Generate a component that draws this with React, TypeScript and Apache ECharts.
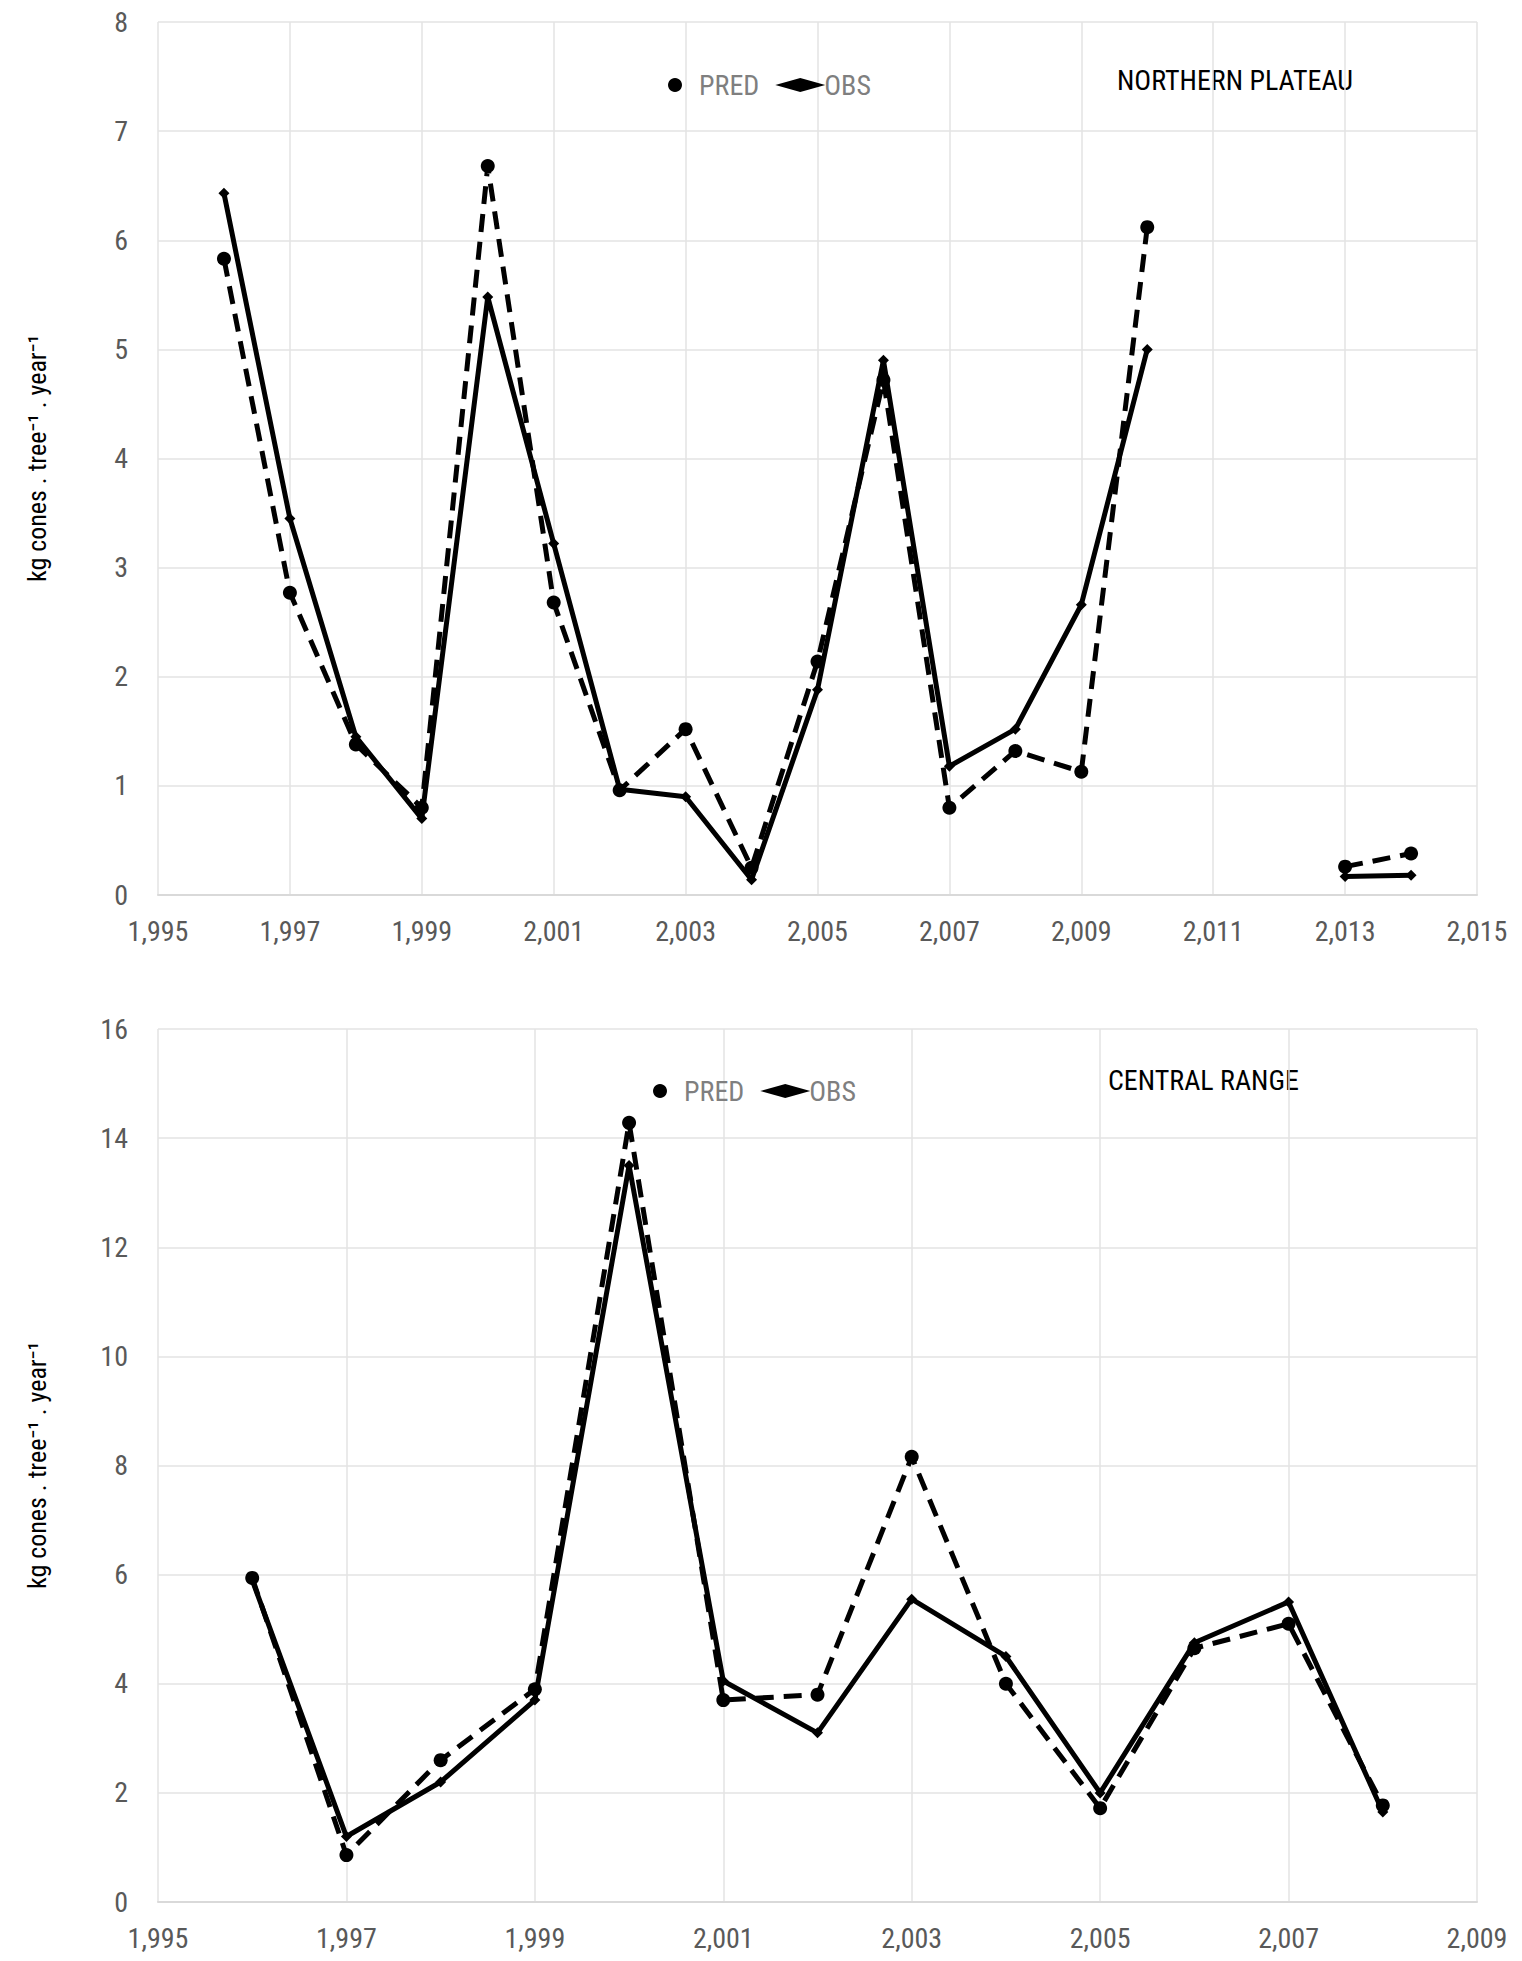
import React, { useEffect, useRef } from 'react';
import * as echarts from 'echarts';

const yearsTop = [1996, 1997, 1998, 1999, 2000, 2001, 2002, 2003, 2004, 2005, 2006, 2007, 2008, 2009, 2010, 2011, 2012, 2013, 2014];
const predTop = [5.83, 2.77, 1.38, 0.8, 6.68, 2.68, 0.96, 1.52, 0.25, 2.14, 4.72, 0.8, 1.32, 1.13, 6.12, null, null, 0.26, 0.38];
const obsTop = [6.43, 3.45, 1.45, 0.7, 5.48, 3.22, 0.97, 0.9, 0.14, 1.88, 4.9, 1.18, 1.52, 2.66, 5.0, null, null, 0.17, 0.18];

const yearsBottom = [1996, 1997, 1998, 1999, 2000, 2001, 2002, 2003, 2004, 2005, 2006, 2007, 2008];
const predBottom = [5.94, 0.86, 2.6, 3.9, 14.28, 3.7, 3.8, 8.16, 4.0, 1.72, 4.65, 5.1, 1.77];
const obsBottom = [5.9, 1.2, 2.2, 3.7, 13.5, 4.05, 3.1, 5.55, 4.5, 2.0, 4.75, 5.5, 1.65];

const FONT = '"Liberation Sans Narrow", "Roboto Condensed", Roboto, sans-serif';
const YLABEL = 'kg cones . tree⁻¹ . year⁻¹';

const pair = (xs: number[], ys: (number | null)[]) => xs.map((x, i) => [x, ys[i]]);

const App: React.FC = () => {
    const chartRef = useRef<HTMLDivElement>(null);

    useEffect(() => {
        document.body.style.margin = '0';
        if (!chartRef.current) return;
        const chart = echarts.init(chartRef.current, undefined, { renderer: 'svg' });

        const xAxis = (gi: number, max: number) => ({
            type: 'value', gridIndex: gi, min: 1995, max, interval: 2,
            axisLine: { lineStyle: { color: '#d9d9d9', width: 2 } },
            axisTick: { show: false },
            splitLine: { lineStyle: { color: '#e3e3e3', width: 1.5 } },
            axisLabel: { color: '#595959', fontSize: 28, fontFamily: FONT, margin: 22 },
        });
        const yAxis = (gi: number, max: number, interval: number) => ({
            type: 'value', gridIndex: gi, min: 0, max, interval,
            name: YLABEL, nameLocation: 'middle', nameGap: 108, nameRotate: 90,
            nameTextStyle: { color: '#000', fontSize: 26, fontFamily: FONT },
            axisLine: { show: false }, axisTick: { show: false },
            splitLine: { lineStyle: { color: '#e3e3e3', width: 1.5 } },
            axisLabel: { color: '#595959', fontSize: 28, fontFamily: FONT, margin: 30 },
        });
        const pred = (gi: number, data: any[]) => ({
            name: 'PRED', type: 'line', xAxisIndex: gi, yAxisIndex: gi, data,
            symbol: 'circle', symbolSize: 14, connectNulls: false,
            lineStyle: { color: '#000', width: 5, type: [18, 10] }, itemStyle: { color: '#000' },
        });
        const obs = (gi: number, data: any[]) => ({
            name: 'OBS', type: 'line', xAxisIndex: gi, yAxisIndex: gi, data,
            symbol: 'diamond', symbolSize: 11, connectNulls: false,
            lineStyle: { color: '#000', width: 5 }, itemStyle: { color: '#000' },
        });
        const legend = (top: number, left: number) => ({
            top, left, itemWidth: 50, itemHeight: 14, itemGap: 16,
            textStyle: { color: '#7f7f7f', fontSize: 28, fontFamily: FONT, padding: [0, 0, 0, -6] },
            data: [{ name: 'PRED', icon: 'circle' }, { name: 'OBS', icon: 'diamond' }],
        });

        chart.setOption({
            animation: false,
            grid: [
                { left: 158, top: 22, right: 45, height: 873 },
                { left: 158, top: 1029, right: 45, height: 873 },
            ],
            xAxis: [xAxis(0, 2015), xAxis(1, 2009)],
            yAxis: [yAxis(0, 8, 1), yAxis(1, 16, 2)],
            legend: [
                { ...legend(66, 663), legendIndex: 0 },
                { ...legend(1072, 648) },
            ],
            graphic: [
                { type: 'text', left: 1117, top: 66, style: { text: 'NORTHERN PLATEAU', fontSize: 28, fontFamily: FONT, fill: '#000' } },
                { type: 'text', left: 1108, top: 1066, style: { text: 'CENTRAL RANGE', fontSize: 28, fontFamily: FONT, fill: '#000' } },
            ],
            series: [
                pred(0, pair(yearsTop, predTop)),
                obs(0, pair(yearsTop, obsTop)),
                pred(1, pair(yearsBottom, predBottom)),
                obs(1, pair(yearsBottom, obsBottom)),
            ],
        });

        return () => chart.dispose();
    }, []);

    return <div ref={chartRef} style={{ width: '1522px', height: '1961px' }} />;
};

export default App;
